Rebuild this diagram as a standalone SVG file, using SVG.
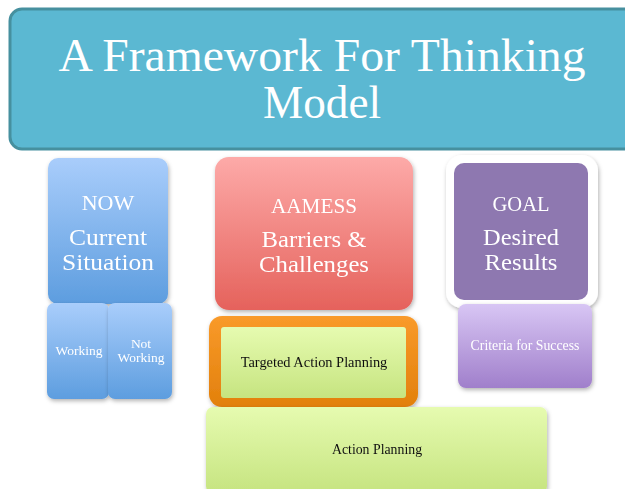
<svg xmlns="http://www.w3.org/2000/svg" width="625" height="489" viewBox="0 0 625 489">
<defs>
<linearGradient id="gBlue" x1="0" y1="0" x2="0" y2="1"><stop offset="0" stop-color="#a9cdfb"/><stop offset="1" stop-color="#5d9ddf"/></linearGradient>
<linearGradient id="gRed" x1="0" y1="0" x2="0" y2="1"><stop offset="0" stop-color="#fdaaa8"/><stop offset="1" stop-color="#e5625c"/></linearGradient>
<linearGradient id="gGreen" x1="0" y1="0" x2="0" y2="1"><stop offset="0" stop-color="#e6fbb0"/><stop offset="1" stop-color="#c6e480"/></linearGradient>
<linearGradient id="gLav" x1="0" y1="0" x2="0" y2="1"><stop offset="0" stop-color="#d8c6f4"/><stop offset="1" stop-color="#a07fcb"/></linearGradient>
<linearGradient id="gOrange" x1="0" y1="0" x2="0" y2="1"><stop offset="0" stop-color="#f99a2a"/><stop offset="1" stop-color="#e2800c"/></linearGradient>
<filter id="sh" x="-10%" y="-10%" width="125%" height="130%"><feDropShadow dx="1" dy="2" stdDeviation="2" flood-color="#000" flood-opacity="0.3"/></filter>
</defs>
<style>
.big{font-family:"Liberation Serif","DejaVu Serif",serif;fill:#fff;text-anchor:middle}
.small{font-family:"Liberation Serif","DejaVu Serif",serif;text-anchor:middle}
</style>
<rect width="625" height="489" fill="#fff"/>
<g id="title">
<rect x="10" y="9" width="630" height="140" rx="12" fill="#5bb8d2" stroke="#46909f" stroke-width="3"/>
<text class="big" x="322" y="71" font-size="46" textLength="527" lengthAdjust="spacingAndGlyphs">A Framework For Thinking</text>
<text class="big" x="322" y="118" font-size="46" textLength="118" lengthAdjust="spacingAndGlyphs">Model</text>
</g>
<g id="now" filter="url(#sh)">
<rect x="48" y="158" width="120" height="146" rx="10" fill="url(#gBlue)"/>
<text class="big" x="108" y="210" font-size="22">NOW</text>
<text class="big" x="108" y="245" font-size="24" textLength="78" lengthAdjust="spacingAndGlyphs">Current</text>
<text class="big" x="108" y="270" font-size="24" textLength="92" lengthAdjust="spacingAndGlyphs">Situation</text>
</g>
<g id="working" filter="url(#sh)">
<rect x="47" y="303" width="62" height="96" rx="7" fill="url(#gBlue)"/>
<text class="small" x="79" y="355" font-size="13.5" fill="#fff">Working</text>
</g>
<g id="notworking" filter="url(#sh)">
<rect x="108" y="303" width="64" height="96" rx="7" fill="url(#gBlue)"/>
<text class="small" x="141" y="348" font-size="13.5" fill="#fff">Not</text>
<text class="small" x="141" y="362" font-size="13.5" fill="#fff">Working</text>
</g>
<g id="aamess" filter="url(#sh)">
<rect x="215" y="157" width="198" height="153" rx="14" fill="url(#gRed)"/>
<text class="big" x="314" y="213" font-size="21.2">AAMESS</text>
<text class="big" x="314" y="247" font-size="24" textLength="105" lengthAdjust="spacingAndGlyphs">Barriers &amp;</text>
<text class="big" x="314" y="272" font-size="24" textLength="110" lengthAdjust="spacingAndGlyphs">Challenges</text>
</g>
<g id="targeted" filter="url(#sh)">
<rect x="209" y="316" width="209" height="91" rx="13" fill="url(#gOrange)"/>
<rect x="221" y="327" width="185" height="71" rx="3" fill="url(#gGreen)"/>
<text class="small" x="314" y="367" font-size="14.4" fill="#111">Targeted Action Planning</text>
</g>
<g id="action" filter="url(#sh)">
<rect x="206" y="407" width="341" height="86" rx="7" fill="url(#gGreen)"/>
<text class="small" x="377" y="454" font-size="13.8" fill="#111">Action Planning</text>
</g>
<g id="goal" filter="url(#sh)">
<rect x="446" y="155" width="152" height="153" rx="16" fill="#fff"/>
<rect x="454" y="163" width="134" height="137" rx="10" fill="#8e78b0"/>
<text class="big" x="521" y="211" font-size="20.5">GOAL</text>
<text class="big" x="521" y="245" font-size="24" textLength="76" lengthAdjust="spacingAndGlyphs">Desired</text>
<text class="big" x="521" y="270" font-size="24" textLength="73" lengthAdjust="spacingAndGlyphs">Results</text>
</g>
<g id="criteria" filter="url(#sh)">
<rect x="458" y="304" width="134" height="84" rx="8" fill="url(#gLav)"/>
<text class="small" x="525" y="350" font-size="13.8" fill="#fff">Criteria for Success</text>
</g>
<g id="connectors"/>
</svg>
